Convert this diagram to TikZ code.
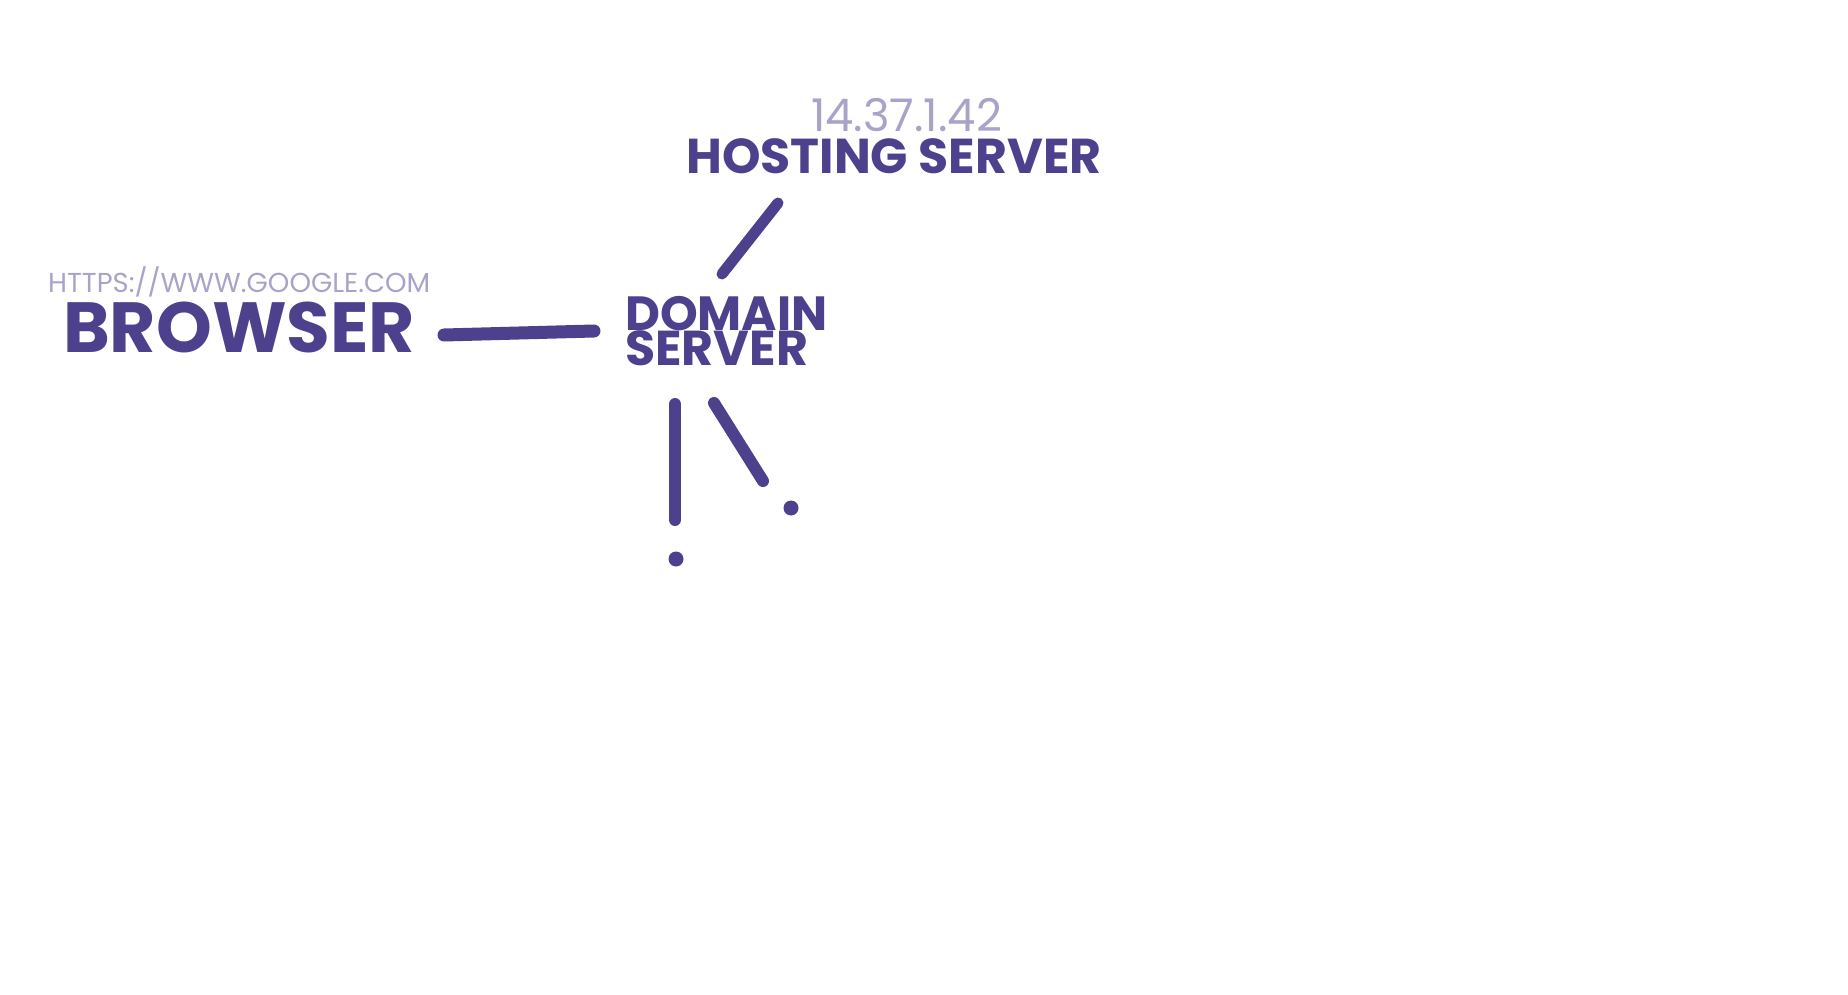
\documentclass[tikz,border=0pt]{standalone}
\usepackage{fontspec}
\setmainfont{Poppins}
\definecolor{dark}{HTML}{4D418E}
\definecolor{light}{HTML}{A9A3C9}
\begin{document}
\begin{tikzpicture}[x=1pt,y=-1pt,
  lbl/.style={inner sep=0pt,anchor=base west,text depth=0pt},
  big/.style={lbl,text=dark},
  small/.style={lbl,text=light},
  conn/.style={draw=dark,line width=12pt,line cap=round},
  dot/.style={fill=dark}]
\useasboundingbox (0,0) rectangle (1848,995);
\node[small,font=\fontsize{45}{45}\selectfont] (ip) at (811,132) {14.37.1.42};
\node[big,font=\fontsize{49}{49}\selectfont\bfseries] (host) at (686,174) {HOSTING SERVER};
\node[small,font=\fontsize{27.4}{27.4}\selectfont] (url) at (48,292) {HTTPS://WWW.GOOGLE.COM};
\node[big,font=\fontsize{71}{71}\selectfont\bfseries] (browser) at (63,352) {BROWSER};
\node[big,font=\fontsize{48}{48}\selectfont\bfseries] (domain) at (625,330) {DOMAIN};
\node[big,font=\fontsize{49}{49}\selectfont\bfseries] (dserver) at (625,365) {SERVER};
\coordinate (b1) at (444,335);
\coordinate (b2) at (594,331);
\coordinate (h1) at (778,203);
\coordinate (h2) at (722,274);
\coordinate (v1) at (675,404);
\coordinate (v2) at (675,520);
\coordinate (d1) at (714,403);
\coordinate (d2) at (763,481);
\draw[conn,line width=13pt] (b1) -- (b2);
\draw[conn,line width=11pt] (h1) -- (h2);
\draw[conn] (v1) -- (v2);
\draw[conn] (d1) -- (d2);
\fill[dot] (676,559) circle (7.5);
\fill[dot] (791,508) circle (7.5);
\end{tikzpicture}
\end{document}
